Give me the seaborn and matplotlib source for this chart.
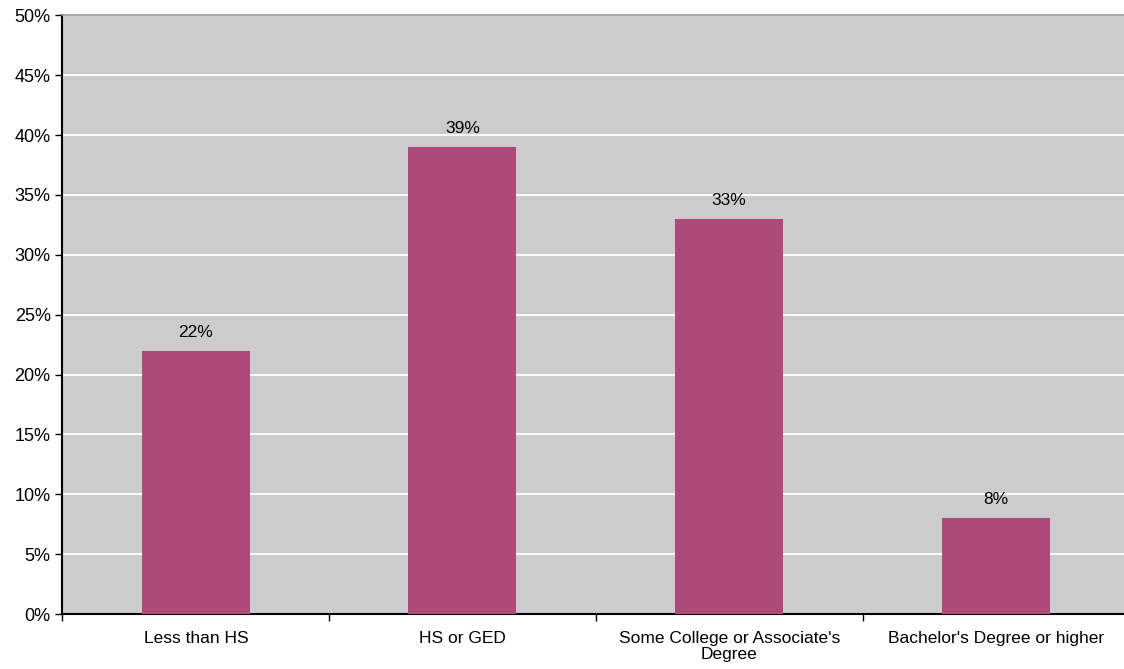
import matplotlib
matplotlib.use("Agg")
import matplotlib.pyplot as plt
import seaborn as sns
import pandas as pd
from matplotlib.ticker import FixedLocator, PercentFormatter

categories = ["Less than HS", "HS or GED", "Some College or Associate's\nDegree",
              "Bachelor's Degree or higher"]
shares = [22, 39, 33, 8]
yticks = [0, 5, 10, 15, 20, 25, 30, 35, 40, 45, 50]

df = pd.DataFrame({"category": categories, "share": shares})

sns.set_style("white")
plt.rcParams["font.family"] = ["Liberation Sans", "DejaVu Sans"]

fig = plt.figure(figsize=(11.24, 6.69), dpi=100)
ax = fig.add_axes([0.0556, 0.0822, 0.949, 0.895])
ax.set_facecolor("#CCCCCC")

sns.barplot(data=df, x="category", y="share", color="#AD4A7A", width=0.405,
            saturation=1, linewidth=0, ax=ax, zorder=3)

ax.set_ylim(0, 50)
ax.set_xlim(-0.5, len(categories) - 0.5)
ax.set_yticks(yticks)
ax.yaxis.set_major_formatter(PercentFormatter(decimals=0))
ax.yaxis.grid(True, color="white", linewidth=1.3, zorder=0)
ax.set_axisbelow(True)

ax.xaxis.set_minor_locator(FixedLocator([i - 0.5 for i in range(len(categories) + 1)]))
ax.tick_params(axis="x", which="both", bottom=True)
ax.tick_params(axis="x", which="major", length=0, labelsize=12.5, pad=12,
               labelcolor="black")
ax.tick_params(axis="x", which="minor", length=5, width=1, color="black", direction="out")
ax.tick_params(axis="y", length=5, width=1, color="black", direction="out", labelsize=13,
               left=True, labelcolor="black")
for lbl in ax.get_xticklabels():
    lbl.set_linespacing(1.15)

for s in ["left", "bottom"]:
    ax.spines[s].set_color("black")
    ax.spines[s].set_linewidth(1.5)
ax.spines["right"].set_visible(False)
ax.spines["top"].set_color("#999999")
ax.spines["top"].set_linewidth(1.2)

ax.set_xlabel("")
ax.set_ylabel("")

for i, v in enumerate(shares):
    ax.text(i, v + 0.9, f"{v}%", ha="center", va="bottom", fontsize=12.5, color="black")

fig.savefig("out.png", dpi=100)
